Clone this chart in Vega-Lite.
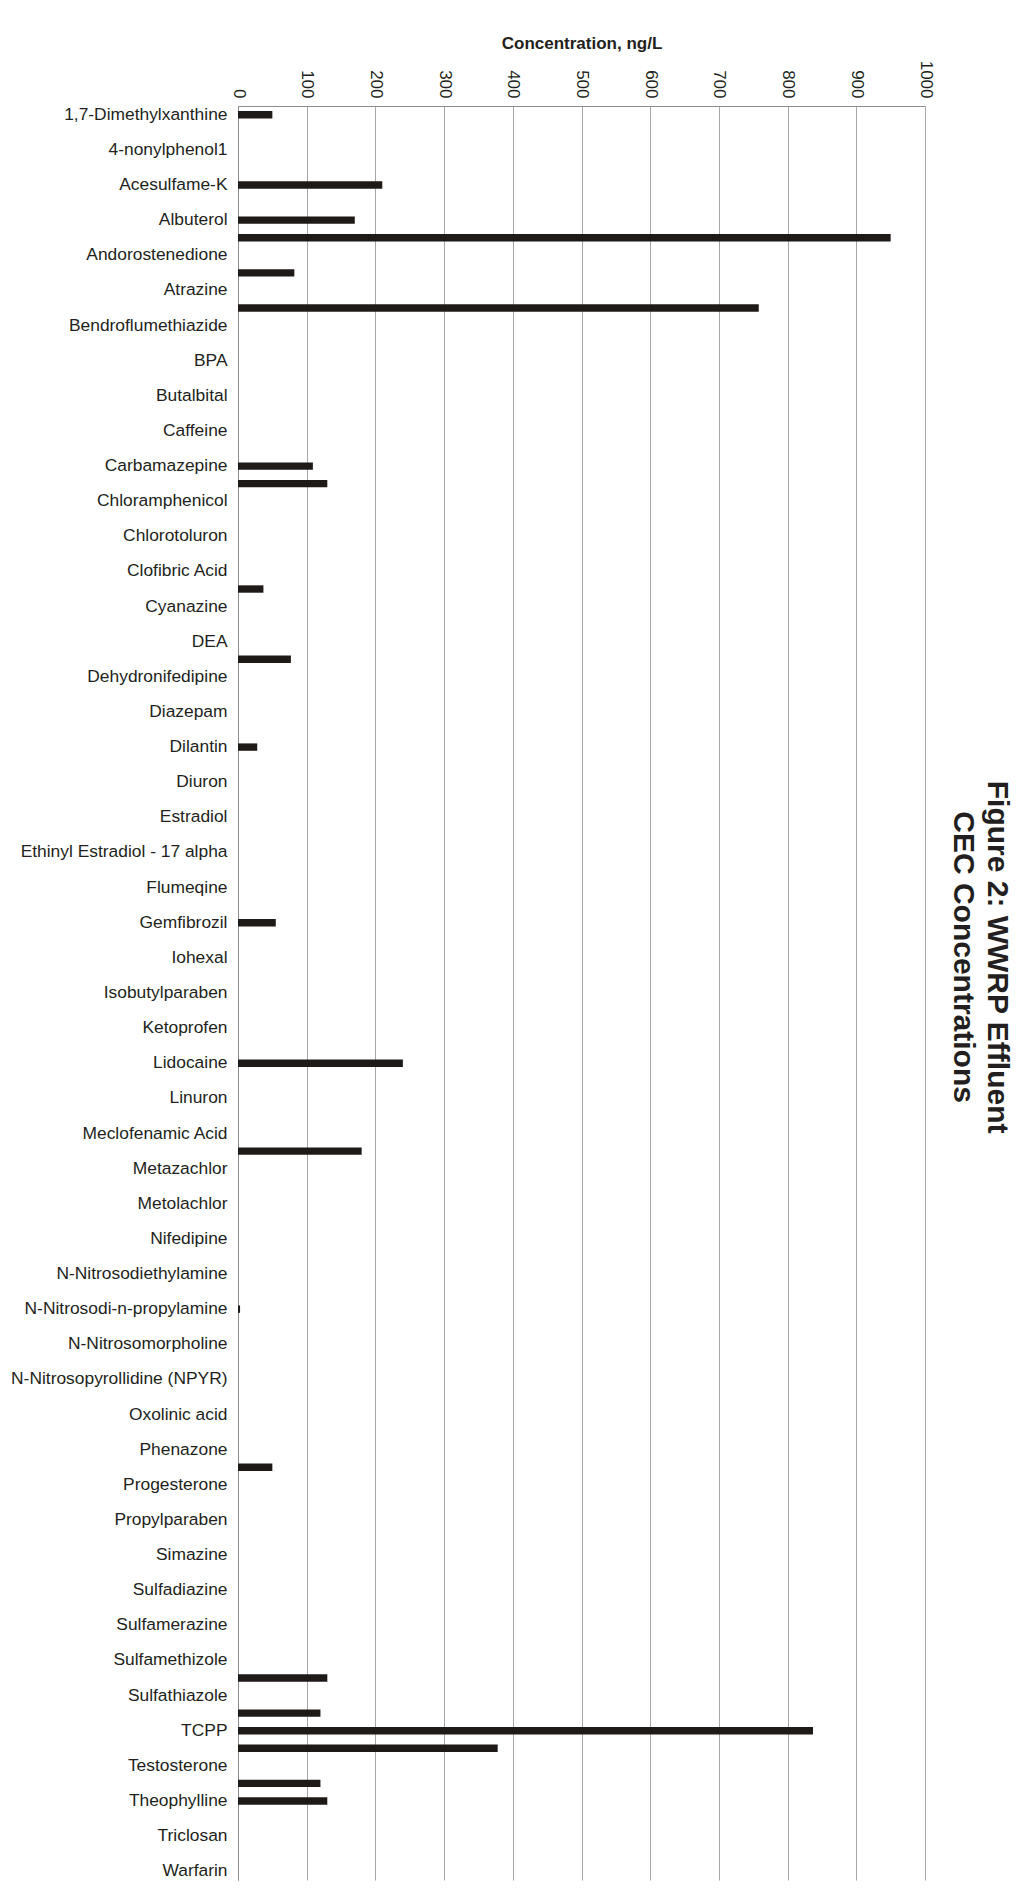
{
  "$schema": "https://vega.github.io/schema/vega-lite/v6.json",
  "width": 687,
  "height": 1774,
  "autosize": {"type": "none"},
  "padding": {"left": 238, "top": 106, "right": 109, "bottom": 14},
  "background": "white",
  "config": {"view": {"stroke": null}, "font": "Liberation Sans"},
  "title": {
    "text": ["Figure 2: WWRP Effluent", "CEC Concentrations"],
    "orient": "right",
    "anchor": "middle",
    "frame": "bounds",
    "fontSize": 30,
    "fontWeight": "bold",
    "color": "#231f20",
    "lineHeight": 34,
    "offset": 14
  },
  "data": {
    "values": [
      {"compound": "1,7-Dimethylxanthine", "ngL": 50},
      {"compound": "(unlabelled 1)", "ngL": 0},
      {"compound": "4-nonylphenol1", "ngL": 0},
      {"compound": "(unlabelled 3)", "ngL": 0},
      {"compound": "Acesulfame-K", "ngL": 210},
      {"compound": "(unlabelled 5)", "ngL": 0},
      {"compound": "Albuterol", "ngL": 170},
      {"compound": "(unlabelled 7)", "ngL": 950},
      {"compound": "Andorostenedione", "ngL": 0},
      {"compound": "(unlabelled 9)", "ngL": 82},
      {"compound": "Atrazine", "ngL": 0},
      {"compound": "(unlabelled 11)", "ngL": 758},
      {"compound": "Bendroflumethiazide", "ngL": 0},
      {"compound": "(unlabelled 13)", "ngL": 0},
      {"compound": "BPA", "ngL": 0},
      {"compound": "(unlabelled 15)", "ngL": 0},
      {"compound": "Butalbital", "ngL": 0},
      {"compound": "(unlabelled 17)", "ngL": 0},
      {"compound": "Caffeine", "ngL": 0},
      {"compound": "(unlabelled 19)", "ngL": 0},
      {"compound": "Carbamazepine", "ngL": 109},
      {"compound": "(unlabelled 21)", "ngL": 130},
      {"compound": "Chloramphenicol", "ngL": 0},
      {"compound": "(unlabelled 23)", "ngL": 0},
      {"compound": "Chlorotoluron", "ngL": 0},
      {"compound": "(unlabelled 25)", "ngL": 0},
      {"compound": "Clofibric Acid", "ngL": 0},
      {"compound": "(unlabelled 27)", "ngL": 37},
      {"compound": "Cyanazine", "ngL": 0},
      {"compound": "(unlabelled 29)", "ngL": 0},
      {"compound": "DEA", "ngL": 0},
      {"compound": "(unlabelled 31)", "ngL": 77},
      {"compound": "Dehydronifedipine", "ngL": 0},
      {"compound": "(unlabelled 33)", "ngL": 0},
      {"compound": "Diazepam", "ngL": 0},
      {"compound": "(unlabelled 35)", "ngL": 0},
      {"compound": "Dilantin", "ngL": 28},
      {"compound": "(unlabelled 37)", "ngL": 0},
      {"compound": "Diuron", "ngL": 0},
      {"compound": "(unlabelled 39)", "ngL": 0},
      {"compound": "Estradiol", "ngL": 0},
      {"compound": "(unlabelled 41)", "ngL": 0},
      {"compound": "Ethinyl Estradiol - 17 alpha", "ngL": 0},
      {"compound": "(unlabelled 43)", "ngL": 0},
      {"compound": "Flumeqine", "ngL": 0},
      {"compound": "(unlabelled 45)", "ngL": 0},
      {"compound": "Gemfibrozil", "ngL": 55},
      {"compound": "(unlabelled 47)", "ngL": 0},
      {"compound": "Iohexal", "ngL": 0},
      {"compound": "(unlabelled 49)", "ngL": 0},
      {"compound": "Isobutylparaben", "ngL": 0},
      {"compound": "(unlabelled 51)", "ngL": 0},
      {"compound": "Ketoprofen", "ngL": 0},
      {"compound": "(unlabelled 53)", "ngL": 0},
      {"compound": "Lidocaine", "ngL": 240},
      {"compound": "(unlabelled 55)", "ngL": 0},
      {"compound": "Linuron", "ngL": 0},
      {"compound": "(unlabelled 57)", "ngL": 0},
      {"compound": "Meclofenamic Acid", "ngL": 0},
      {"compound": "(unlabelled 59)", "ngL": 180},
      {"compound": "Metazachlor", "ngL": 0},
      {"compound": "(unlabelled 61)", "ngL": 0},
      {"compound": "Metolachlor", "ngL": 0},
      {"compound": "(unlabelled 63)", "ngL": 0},
      {"compound": "Nifedipine", "ngL": 0},
      {"compound": "(unlabelled 65)", "ngL": 0},
      {"compound": "N-Nitrosodiethylamine", "ngL": 0},
      {"compound": "(unlabelled 67)", "ngL": 0},
      {"compound": "N-Nitrosodi-n-propylamine", "ngL": 3},
      {"compound": "(unlabelled 69)", "ngL": 0},
      {"compound": "N-Nitrosomorpholine ", "ngL": 0},
      {"compound": "(unlabelled 71)", "ngL": 0},
      {"compound": "N-Nitrosopyrollidine (NPYR)", "ngL": 0},
      {"compound": "(unlabelled 73)", "ngL": 0},
      {"compound": "Oxolinic acid", "ngL": 0},
      {"compound": "(unlabelled 75)", "ngL": 0},
      {"compound": "Phenazone", "ngL": 0},
      {"compound": "(unlabelled 77)", "ngL": 50},
      {"compound": "Progesterone", "ngL": 0},
      {"compound": "(unlabelled 79)", "ngL": 0},
      {"compound": "Propylparaben", "ngL": 0},
      {"compound": "(unlabelled 81)", "ngL": 0},
      {"compound": "Simazine", "ngL": 0},
      {"compound": "(unlabelled 83)", "ngL": 0},
      {"compound": "Sulfadiazine", "ngL": 0},
      {"compound": "(unlabelled 85)", "ngL": 0},
      {"compound": "Sulfamerazine", "ngL": 0},
      {"compound": "(unlabelled 87)", "ngL": 0},
      {"compound": "Sulfamethizole", "ngL": 0},
      {"compound": "(unlabelled 89)", "ngL": 130},
      {"compound": "Sulfathiazole", "ngL": 0},
      {"compound": "(unlabelled 91)", "ngL": 120},
      {"compound": "TCPP", "ngL": 837},
      {"compound": "(unlabelled 93)", "ngL": 378},
      {"compound": "Testosterone", "ngL": 0},
      {"compound": "(unlabelled 95)", "ngL": 120},
      {"compound": "Theophylline", "ngL": 130},
      {"compound": "(unlabelled 97)", "ngL": 0},
      {"compound": "Triclosan", "ngL": 0},
      {"compound": "(unlabelled 99)", "ngL": 0},
      {"compound": "Warfarin", "ngL": 0}
    ]
  },
  "mark": {"type": "bar", "color": "#1e1a18"},
  "encoding": {
    "y": {
      "field": "compound",
      "type": "nominal",
      "sort": null,
      "scale": {"paddingInner": 0.58, "paddingOuter": 0.29},
      "axis": {
        "title": null,
        "values": ["1,7-Dimethylxanthine", "4-nonylphenol1", "Acesulfame-K", "Albuterol", "Andorostenedione", "Atrazine", "Bendroflumethiazide", "BPA", "Butalbital", "Caffeine", "Carbamazepine", "Chloramphenicol", "Chlorotoluron", "Clofibric Acid", "Cyanazine", "DEA", "Dehydronifedipine", "Diazepam", "Dilantin", "Diuron", "Estradiol", "Ethinyl Estradiol - 17 alpha", "Flumeqine", "Gemfibrozil", "Iohexal", "Isobutylparaben", "Ketoprofen", "Lidocaine", "Linuron", "Meclofenamic Acid", "Metazachlor", "Metolachlor", "Nifedipine", "N-Nitrosodiethylamine", "N-Nitrosodi-n-propylamine", "N-Nitrosomorpholine ", "N-Nitrosopyrollidine (NPYR)", "Oxolinic acid", "Phenazone", "Progesterone", "Propylparaben", "Simazine", "Sulfadiazine", "Sulfamerazine", "Sulfamethizole", "Sulfathiazole", "TCPP", "Testosterone", "Theophylline", "Triclosan", "Warfarin"],
        "ticks": false,
        "grid": false,
        "domainColor": "#8c8c8c",
        "labelFontSize": 17.4,
        "labelColor": "#231f20",
        "labelPadding": 11,
        "labelLimit": 400,
        "labelOverlap": false
      }
    },
    "x": {
      "field": "ngL",
      "type": "quantitative",
      "scale": {"domain": [0, 1000], "nice": false},
      "axis": {
        "orient": "top",
        "values": [0, 100, 200, 300, 400, 500, 600, 700, 800, 900, 1000],
        "format": "d",
        "title": "Concentration, ng/L",
        "titleFontSize": 17,
        "titleFontWeight": "bold",
        "titleColor": "#231f20",
        "titlePadding": 8,
        "labelAngle": 90,
        "labelAlign": "right",
        "labelBaseline": "middle",
        "labelFontSize": 17,
        "labelPadding": 8,
        "labelColor": "#231f20",
        "labelFlush": false,
        "labelOverlap": false,
        "ticks": false,
        "grid": true,
        "gridColor": "#a6a6a6",
        "domainColor": "#8c8c8c"
      }
    }
  }
}
